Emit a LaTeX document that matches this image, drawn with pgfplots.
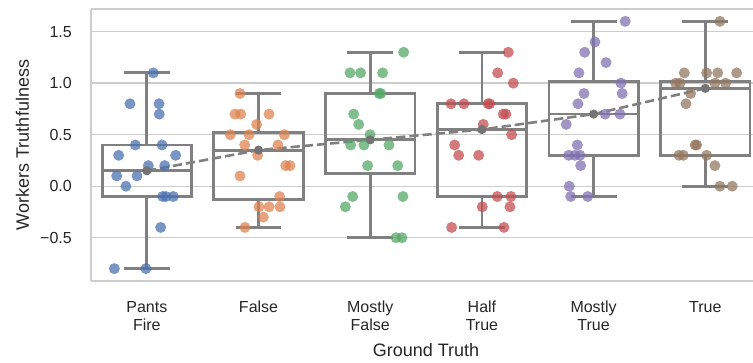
\documentclass[border=0pt]{standalone}
\usepackage{fontspec}
\setmainfont{Liberation Sans}
\usepackage{pgfplots}
\pgfplotsset{compat=1.18}
\usepgfplotslibrary{statistics}
\definecolor{sbblue}{HTML}{4C72B0}
\definecolor{sborange}{HTML}{DD8452}
\definecolor{sbgreen}{HTML}{55A868}
\definecolor{sbred}{HTML}{C44E52}
\definecolor{sbpurple}{HTML}{8172B3}
\definecolor{sbbrown}{HTML}{937860}
\definecolor{boxgray}{HTML}{808080}
\definecolor{dotgray}{HTML}{747474}
\definecolor{gridgray}{HTML}{CCCCCC}
\pgfplotsset{
  bx/.style={boxgray, solid, line width=2.8pt, boxplot/draw direction=y,
    boxplot/every box/.style={draw=boxgray, line width=2.8pt},
    boxplot/every median/.style={draw=boxgray, line width=2.8pt},
    boxplot/every whisker/.style={draw=boxgray, line width=2.8pt}},
  pts/.style={only marks, mark=*, mark size=5.5pt, mark options={draw=#1, draw opacity=0, fill=#1, fill opacity=0.75}},
}
\begin{document}
\begin{tikzpicture}
\useasboundingbox (-91pt,-82pt) rectangle (662pt,281pt);
\begin{axis}[
  scale only axis, width=662pt, height=272pt,
  xmin=-0.5, xmax=5.427, ymin=-0.92, ymax=1.72,
  axis x line*=box, axis y line*=left,
  axis line style={gridgray, line width=1.6pt},
  ymajorgrids, grid style={gridgray, line width=1.4pt},
  major tick length=0pt,
  xtick={0,1,2,3,4,5},
  xticklabels={{Pants\\Fire},False,{Mostly\\False},{Half\\True},{Mostly\\True},True},
  ytick={-0.5,0,0.5,1,1.5},
  yticklabels={−0.5,0.0,0.5,1.0,1.5},
  xticklabel style={align=center, anchor=north, inner sep=0pt, yshift=-20pt, font=\fontsize{16}{18}\selectfont, text=black!85},
  yticklabel style={anchor=east, inner sep=0pt, xshift=-19pt, font=\fontsize{16}{18}\selectfont, text=black!85},
  xlabel={Ground Truth},
  xlabel style={at={(axis description cs:0.506,0)}, anchor=base, yshift=-76pt, inner sep=0pt, font=\fontsize{18}{21}\selectfont, text=black!85},
  ylabel={Workers Truthfulness},
  ylabel style={at={(axis description cs:-0.1035,0.5)}, anchor=center, inner sep=0pt, font=\fontsize{18}{21}\selectfont, text=black!85},
  clip=false,
]
% boxes
\addplot[bx, boxplot prepared={draw position=0, lower whisker=-0.8, lower quartile=-0.1, median=0.15, upper quartile=0.4, upper whisker=1.1, box extend=0.8, whisker extend=0.41}] coordinates {};
\addplot[bx, boxplot prepared={draw position=1, lower whisker=-0.4, lower quartile=-0.13, median=0.35, upper quartile=0.52, upper whisker=0.9, box extend=0.8, whisker extend=0.41}] coordinates {};
\addplot[bx, boxplot prepared={draw position=2, lower whisker=-0.5, lower quartile=0.12, median=0.45, upper quartile=0.9, upper whisker=1.3, box extend=0.8, whisker extend=0.41}] coordinates {};
\addplot[bx, boxplot prepared={draw position=3, lower whisker=-0.4, lower quartile=-0.1, median=0.55, upper quartile=0.8, upper whisker=1.3, box extend=0.8, whisker extend=0.41}] coordinates {};
\addplot[bx, boxplot prepared={draw position=4, lower whisker=-0.1, lower quartile=0.3, median=0.7, upper quartile=1.02, upper whisker=1.6, box extend=0.8, whisker extend=0.41}] coordinates {};
\addplot[bx, boxplot prepared={draw position=5, lower whisker=0.0, lower quartile=0.3, median=0.95, upper quartile=1.02, upper whisker=1.6, box extend=0.8, whisker extend=0.41}] coordinates {};
% points
\addplot[pts=sbblue] coordinates {(0.058,1.10)(-0.151,0.80)(0.109,0.80)(0.111,0.70)(-0.103,0.40)(0.136,0.40)(-0.252,0.30)(0.258,0.30)(0.013,0.20)(0.160,0.20)(-0.270,0.10)(-0.088,0.10)(-0.187,0.00)(0.142,-0.10)(0.171,-0.10)(0.237,-0.10)(0.124,-0.40)(-0.291,-0.80)(-0.008,-0.80)};
\addplot[pts=sborange] coordinates {(0.834,0.90)(0.789,0.70)(0.840,0.70)(1.094,0.70)(0.983,0.60)(0.747,0.50)(0.915,0.50)(1.231,0.50)(0.876,0.40)(1.174,0.40)(0.992,0.30)(1.243,0.20)(1.282,0.20)(0.834,0.10)(1.189,-0.10)(1.004,-0.20)(1.094,-0.20)(1.192,-0.20)(1.043,-0.30)(0.879,-0.40)};
\addplot[pts=sbgreen] coordinates {(2.299,1.30)(1.819,1.10)(1.914,1.10)(2.111,1.10)(2.080,0.90)(2.095,0.90)(1.852,0.70)(1.897,0.60)(1.998,0.50)(1.825,0.40)(1.944,0.40)(2.168,0.40)(1.977,0.20)(2.246,0.20)(1.843,-0.10)(2.293,-0.10)(1.777,-0.20)(2.231,-0.50)(2.284,-0.50)};
\addplot[pts=sbred] coordinates {(3.236,1.30)(3.141,1.10)(3.281,1.00)(2.723,0.80)(2.839,0.80)(3.055,0.80)(3.070,0.80)(3.191,0.70)(3.215,0.70)(3.012,0.60)(3.266,0.50)(2.756,0.40)(2.792,0.30)(2.971,0.30)(3.137,-0.10)(3.260,-0.10)(3.003,-0.20)(3.251,-0.20)(2.729,-0.40)(3.197,-0.40)};
\addplot[pts=sbpurple] coordinates {(4.283,1.60)(4.012,1.40)(3.920,1.30)(4.111,1.20)(3.869,1.10)(4.245,1.00)(3.914,0.90)(4.256,0.90)(3.860,0.80)(4.104,0.70)(4.236,0.70)(3.755,0.60)(3.854,0.40)(3.777,0.30)(3.833,0.30)(3.878,0.30)(3.884,0.20)(3.782,0.00)(3.795,-0.10)(3.947,-0.10)};
\addplot[pts=sbbrown] coordinates {(5.131,1.60)(4.812,1.10)(5.012,1.10)(5.111,1.10)(5.281,1.10)(4.735,1.00)(4.773,1.00)(5.086,1.00)(5.182,1.00)(4.869,0.90)(4.827,0.80)(4.910,0.40)(4.922,0.40)(4.764,0.30)(4.803,0.30)(5.012,0.30)(5.086,0.20)(5.131,0.00)(5.241,0.00)};
% medians
\addplot[boxgray, line width=2.6pt, dash pattern=on 9.25pt off 4pt, mark=*, mark size=4.6pt, mark options={solid, draw=dotgray, draw opacity=0, fill=dotgray}] coordinates {(0,0.15)(1,0.35)(2,0.45)(3,0.55)(4,0.70)(5,0.95)};
\end{axis}
\end{tikzpicture}
\end{document}
